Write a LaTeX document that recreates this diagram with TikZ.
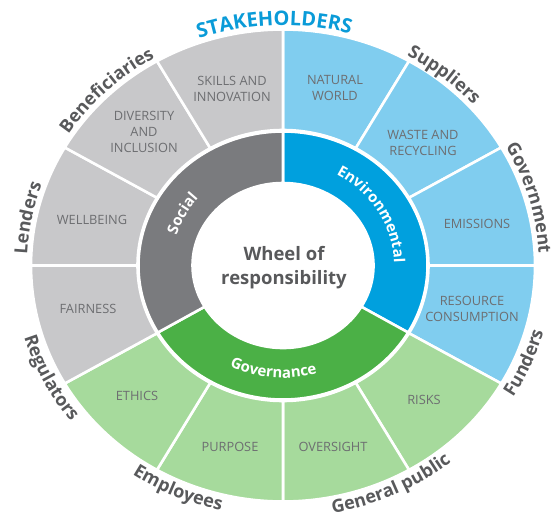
\documentclass[tikz,border=0pt]{standalone}
\usepackage{fontspec}
\setmainfont{Open Sans}
\usetikzlibrary{decorations.text}
\definecolor{soclight}{HTML}{C8C8CA}
\definecolor{socdark}{HTML}{7A7B7E}
\definecolor{envlight}{HTML}{80CDEF}
\definecolor{envdark}{HTML}{00A0DE}
\definecolor{govlight}{HTML}{A6DA9C}
\definecolor{govdark}{HTML}{4BB046}
\definecolor{labelgray}{HTML}{6D6E71}
\definecolor{stakegray}{HTML}{58595B}
\definecolor{stakeblue}{HTML}{0A9BD8}
\newcommand{\stakefont}{\bfseries\fontsize{18}{18}\selectfont}
\newcommand{\pillarfont}{\bfseries\fontsize{15}{15}\selectfont}

\begin{document}
\begin{tikzpicture}[
  x=1pt, y=1pt,
  seg/.style={draw=white,line width=2.6pt,line join=round},
  lbl/.style={align=center,text=labelgray,font=\fontsize{12.8}{16}\selectfont},
  stake/.style={decorate,decoration={text along path,text align=center,
                text color=stakegray,text={|\stakefont|#1}}},
  pillar/.style={decorate,decoration={text along path,text align=center,
                 text color=white,text={|\pillarfont|#1}}}
]
\useasboundingbox (-283,-259.5) rectangle (273,265.5);

% outer ring, twelve topics
\foreach \a/\c in {90/envlight,60/envlight,30/envlight,0/envlight,
                   -30/govlight,-60/govlight,-90/govlight,-120/govlight,
                   -150/soclight,-180/soclight,-210/soclight,-240/soclight}
  \filldraw[seg,fill=\c] (\a:252 and 236)
    arc[start angle=\a,delta angle=-30,x radius=252,y radius=236]
    -- ({\a-30}:145.5 and 135.5)
    arc[start angle=\a-30,delta angle=30,x radius=145.5,y radius=135.5] -- cycle;

% inner ring, three pillars
\foreach \a/\c in {90/envdark,-30/govdark,210/socdark}
  \filldraw[seg,fill=\c] (\a:144.5 and 134)
    arc[start angle=\a,delta angle=-120,x radius=144.5,y radius=134]
    -- ({\a-120}:90.5 and 82.5)
    arc[start angle=\a-120,delta angle=120,x radius=90.5,y radius=82.5] -- cycle;

\node[align=center,text=stakegray,font=\bfseries\fontsize{18.5}{24}\selectfont]
  (hub) at (1,-2.5) {Wheel of\\responsibility};

% topic labels
\node[lbl] (skills)    at (-51,176.5)  {SKILLS AND\\INNOVATION};
\node[lbl] (diversity) at (-139,133.5) {DIVERSITY\\AND\\INCLUSION};
\node[lbl] (wellbeing) at (-191,45.5)  {WELLBEING};
\node[lbl] (fairness)  at (-195,-43.5) {FAIRNESS};
\node[lbl] (ethics)    at (-146,-130.5) {ETHICS};
\node[lbl] (purpose)   at (-53,-181.5) {PURPOSE};
\node[lbl] (oversight) at (50,-181.5)  {OVERSIGHT};
\node[lbl] (risks)     at (141,-134.5) {RISKS};
\node[lbl] (resource)  at (189,-43.5)  {RESOURCE\\CONSUMPTION};
\node[lbl] (emissions) at (194,41.5)   {EMISSIONS};
\node[lbl] (waste)     at (140,122.5)  {WASTE AND\\RECYCLING};
\node[lbl] (natural)   at (52,177.5)   {NATURAL\\WORLD};

% pillar names along the inner ring
\path[pillar=Social] (192:111 and 104) arc[start angle=192,end angle=112,x radius=111,y radius=104];
\path[pillar=Environmental] (75:111 and 104) arc[start angle=75,end angle=-13,x radius=111,y radius=104];
\path[pillar=Governance] (-140:120 and 112.5) arc[start angle=-140,end angle=-50,x radius=120,y radius=112.5];

% stakeholders round the rim
\path[decorate,decoration={text along path,text align=center,text color=stakeblue,
      text={|\bfseries\fontsize{20}{20}\selectfont|STAKEHOLDERS}}]
  (130:256 and 240) arc[start angle=130,end angle=54,x radius=256,y radius=240];
\path[stake=Beneficiaries] (170:256 and 240) arc[start angle=170,end angle=98,x radius=256,y radius=240];
\path[stake=Lenders] (200:256 and 240) arc[start angle=200,end angle=138,x radius=256,y radius=240];
\path[stake=Suppliers] (85:256 and 240) arc[start angle=85,end angle=17,x radius=256,y radius=240];
\path[stake=Government] (50:256 and 240) arc[start angle=50,end angle=-18,x radius=256,y radius=240];
\path[stake=Funders] (-55:270 and 252) arc[start angle=-55,end angle=9,x radius=270,y radius=252];
\path[stake=General public] (-100:270 and 252) arc[start angle=-100,end angle=-30,x radius=270,y radius=252];
\path[stake=Employees] (-148:270 and 252) arc[start angle=-148,end angle=-80,x radius=270,y radius=252];
\path[stake=Regulators] (175:270 and 252) arc[start angle=175,end angle=239,x radius=270,y radius=252];
\end{tikzpicture}
\end{document}
